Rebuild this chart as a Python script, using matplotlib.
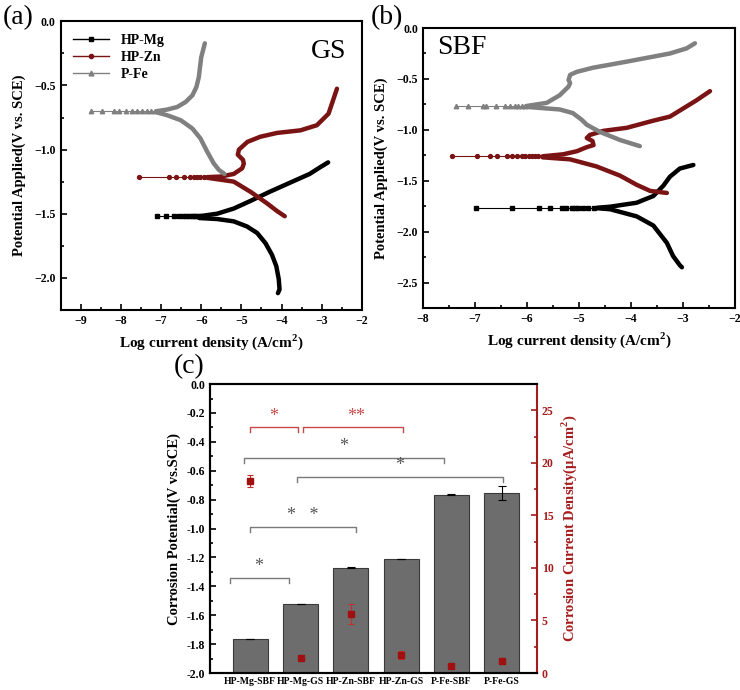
import numpy as np
import matplotlib
matplotlib.use('Agg')
import matplotlib.pyplot as plt
from matplotlib.lines import Line2D
from matplotlib.ticker import MultipleLocator

plt.rcParams['font.family'] = ['Liberation Serif', 'DejaVu Serif']
plt.rcParams['mathtext.fontset'] = 'custom'
plt.rcParams['mathtext.rm'] = 'Liberation Serif'
plt.rcParams['mathtext.bf'] = 'Liberation Serif:bold'

# ---- panel (a): GS polarisation curves (log i, E) ----
gs_mg_ecorr = -1.52
gs_mg_tip = [-7.11, -6.88, -6.68, -6.55, -6.45, -6.37, -6.30, -6.24, -6.18, -6.12, -6.06]
gs_mg_an_x = [-6.05, -5.6, -5.19, -4.77, -4.3, -3.8, -3.3, -3.05, -2.84]
gs_mg_an_y = [-1.52, -1.50, -1.46, -1.40, -1.33, -1.26, -1.19, -1.14, -1.10]
gs_mg_ca_x = [-6.05, -5.60, -5.19, -4.86, -4.61, -4.40, -4.24, -4.13, -4.07, -4.05, -4.09]
gs_mg_ca_y = [-1.534, -1.542, -1.56, -1.60, -1.65, -1.73, -1.82, -1.91, -2.01, -2.09, -2.12]

gs_zn_ecorr = -1.215
gs_zn_tip = [-7.55, -6.80, -6.64, -6.43, -6.27, -6.18, -6.10, -6.02, -5.93]
gs_zn_an_x = [-5.85, -5.5, -5.19, -4.98, -4.94, -4.96, -5.09, -5.06, -4.85, -4.53, -4.11, -3.53, -3.12, -2.83, -2.62]
gs_zn_an_y = [-1.215, -1.21, -1.19, -1.146, -1.11, -1.08, -1.04, -1.00, -0.94, -0.90, -0.87, -0.85, -0.81, -0.72, -0.525]
gs_zn_ca_x = [-5.85, -5.19, -4.77, -4.36, -4.11, -3.92]
gs_zn_ca_y = [-1.22, -1.25, -1.33, -1.42, -1.48, -1.52]

gs_fe_ecorr = -0.70
gs_fe_tip = [-8.75, -8.46, -8.17, -8.05, -7.88, -7.72, -7.59, -7.47, -7.34, -7.24, -7.16]
gs_fe_an_x = [-7.1, -6.85, -6.60, -6.39, -6.22, -6.12, -6.06, -6.03, -6.00, -5.91]
gs_fe_an_y = [-0.70, -0.688, -0.668, -0.629, -0.577, -0.512, -0.435, -0.357, -0.28, -0.171]
gs_fe_ca_x = [-7.1, -6.85, -6.51, -6.22, -6.02, -5.85, -5.69, -5.56, -5.42]
gs_fe_ca_y = [-0.71, -0.732, -0.771, -0.836, -0.913, -1.017, -1.107, -1.159, -1.19]

# ---- panel (b): SBF polarisation curves ----
sbf_mg_ecorr = -1.765
sbf_mg_tip = [-6.98, -6.28, -5.76, -5.56, -5.33, -5.24, -5.14, -5.08, -5.01, -4.92, -4.82, -4.72]
sbf_mg_an_x = [-4.65, -4.40, -3.89, -3.57, -3.38, -3.25, -3.06, -2.80]
sbf_mg_an_y = [-1.765, -1.755, -1.716, -1.65, -1.55, -1.46, -1.38, -1.345]
sbf_mg_ca_x = [-4.65, -4.40, -3.89, -3.57, -3.31, -3.19, -3.06, -3.02]
sbf_mg_ca_y = [-1.77, -1.78, -1.85, -1.94, -2.11, -2.24, -2.33, -2.35]

sbf_zn_ecorr = -1.26
sbf_zn_tip = [-7.45, -6.97, -6.72, -6.58, -6.39, -6.29, -6.20, -6.10, -6.04, -5.97, -5.91, -5.85, -5.78]
sbf_zn_an_x = [-5.7, -5.30, -5.04, -4.85, -4.72, -4.74, -4.85, -4.79, -4.53, -4.08, -3.57, -3.25, -2.74, -2.48]
sbf_zn_an_y = [-1.26, -1.24, -1.21, -1.17, -1.15, -1.11, -1.08, -1.05, -1.01, -0.98, -0.91, -0.87, -0.71, -0.62]
sbf_zn_ca_x = [-5.7, -5.17, -4.66, -4.21, -3.89, -3.63, -3.31]
sbf_zn_ca_y = [-1.27, -1.29, -1.36, -1.45, -1.54, -1.60, -1.62]

sbf_fe_ecorr = -0.768
sbf_fe_tip = [-7.37, -7.14, -6.84, -6.79, -6.60, -6.42, -6.33, -6.23, -6.17, -6.10, -6.04]
sbf_fe_an_x = [-6.0, -5.62, -5.37, -5.20, -5.17, -5.20, -5.17, -5.04, -4.73, -4.08, -3.25, -2.93, -2.77]
sbf_fe_an_y = [-0.765, -0.735, -0.66, -0.575, -0.54, -0.51, -0.46, -0.43, -0.39, -0.33, -0.25, -0.20, -0.15]
sbf_fe_ca_x = [-6.0, -5.62, -5.37, -5.12, -4.95, -4.85, -4.6, -4.21, -3.83]
sbf_fe_ca_y = [-0.775, -0.79, -0.80, -0.835, -0.90, -0.95, -1.02, -1.10, -1.16]

# ---- panel (c): corrosion potential / current density ----
samples = ['HP-Mg-SBF', 'HP-Mg-GS', 'HP-Zn-SBF', 'HP-Zn-GS', 'P-Fe-SBF', 'P-Fe-GS']
ecorr = [-1.765, -1.52, -1.27, -1.21, -0.766, -0.755]
ecorr_err = [0.0, 0.0, 0.006, 0.0, 0.003, 0.048]
icorr = [18.25, 1.46, 5.63, 1.72, 0.7, 1.14]
icorr_err = [0.55, 0.2, 0.95, 0.35, 0.1, 0.2]

C_MG, C_ZN, C_FE = 'black', '#7a1414', '#808080'
RED = '#a51c1c'

fig = plt.figure(figsize=(7.4, 6.9), dpi=100)
ax_a = fig.add_axes([0.082, 0.551, 0.407, 0.418])
ax_b = fig.add_axes([0.5716, 0.5536, 0.4216, 0.4058])
ax_c = fig.add_axes([0.2838, 0.0246, 0.4419, 0.4188])


def draw_curve(ax, tip, ec, an_x, an_y, ca_x, ca_y, color, marker, ms):
    ax.plot(tip, [ec] * len(tip), color=color, lw=0.8, marker=marker, ms=ms)
    ax.plot(an_x, an_y, color=color, lw=3.2, solid_capstyle='round', solid_joinstyle='round')
    ax.plot(ca_x, ca_y, color=color, lw=3.2, solid_capstyle='round', solid_joinstyle='round')


def style_tafel(ax, xlim, ylim):
    ax.set_xlim(*xlim)
    ax.set_ylim(*ylim)
    ax.xaxis.set_major_locator(MultipleLocator(1))
    ax.xaxis.set_minor_locator(MultipleLocator(0.5))
    ax.yaxis.set_major_locator(MultipleLocator(0.5))
    ax.yaxis.set_minor_locator(MultipleLocator(0.25))
    ax.tick_params(which='both', direction='in', width=1.2)
    ax.tick_params(which='major', length=4, labelsize=8.5)
    ax.tick_params(which='minor', length=2.5)
    for t in ax.get_xticklabels() + ax.get_yticklabels():
        t.set_fontweight('bold')
    for s in ax.spines.values():
        s.set_linewidth(1.5)
    ax.set_xlabel('Log current density (A/cm$^\\mathbf{2}$)', fontsize=11, fontweight='bold', labelpad=4)
    ax.set_ylabel('Potential Applied(V vs. SCE)', fontsize=10.5, fontweight='bold', labelpad=6)


draw_curve(ax_a, gs_mg_tip, gs_mg_ecorr, gs_mg_an_x, gs_mg_an_y, gs_mg_ca_x, gs_mg_ca_y, C_MG, 's', 2.8)
draw_curve(ax_a, gs_zn_tip, gs_zn_ecorr, gs_zn_an_x, gs_zn_an_y, gs_zn_ca_x, gs_zn_ca_y, C_ZN, 'o', 2.8)
draw_curve(ax_a, gs_fe_tip, gs_fe_ecorr, gs_fe_an_x, gs_fe_an_y, gs_fe_ca_x, gs_fe_ca_y, C_FE, '^', 3.2)
style_tafel(ax_a, (-9.5, -2), (-2.25, 0))
ax_a.text(0.89, 0.895, 'GS', transform=ax_a.transAxes, fontsize=20, ha='center', va='center')
handles = [Line2D([], [], color=C_MG, lw=1, marker='s', ms=3),
           Line2D([], [], color=C_ZN, lw=1, marker='o', ms=3),
           Line2D([], [], color=C_FE, lw=1, marker='^', ms=3.5)]
ax_a.legend(handles, ['HP-Mg', 'HP-Zn', 'P-Fe'], loc='upper left', bbox_to_anchor=(0.0, 1.0),
            frameon=False, prop={'weight': 'bold', 'size': 10}, handlelength=2.6,
            labelspacing=0.3, borderaxespad=0.5)

draw_curve(ax_b, sbf_mg_tip, sbf_mg_ecorr, sbf_mg_an_x, sbf_mg_an_y, sbf_mg_ca_x, sbf_mg_ca_y, C_MG, 's', 2.8)
draw_curve(ax_b, sbf_zn_tip, sbf_zn_ecorr, sbf_zn_an_x, sbf_zn_an_y, sbf_zn_ca_x, sbf_zn_ca_y, C_ZN, 'o', 2.8)
draw_curve(ax_b, sbf_fe_tip, sbf_fe_ecorr, sbf_fe_an_x, sbf_fe_an_y, sbf_fe_ca_x, sbf_fe_ca_y, C_FE, '^', 3.2)
style_tafel(ax_b, (-8, -2), (-2.75, 0))
ax_b.text(0.125, 0.93, 'SBF', transform=ax_b.transAxes, fontsize=20, ha='center', va='center')

fig.text(0.024, 0.975, '(a)', fontsize=20, ha='center', va='center')
fig.text(0.523, 0.975, '(b)', fontsize=20, ha='center', va='center')
fig.text(0.255, 0.468, '(c)', fontsize=20, ha='center', va='center')

# ---- panel (c) ----
x = np.arange(len(samples))
heights = np.array(ecorr) + 2.0
ax_c.bar(x, heights, bottom=-2.0, width=0.7, color='#6d6d6d', edgecolor='#3a3a3a', lw=0.8, zorder=2)
ax_c.errorbar(x, ecorr, yerr=ecorr_err, fmt='none', ecolor='black', elinewidth=0.8, capsize=3, capthick=0.8, zorder=3)
ax_c.set_xlim(-0.8, 5.7)
ax_c.set_ylim(-2.0, 0.0)
ax_c.set_xticks(x)
ax_c.set_xticklabels(samples, fontsize=7, fontweight='bold')
ax_c.yaxis.set_major_locator(MultipleLocator(0.2))
ax_c.yaxis.set_minor_locator(MultipleLocator(0.1))
ax_c.yaxis.set_major_formatter(matplotlib.ticker.FormatStrFormatter('%.1f'))
ax_c.tick_params(axis='x', length=0, pad=3)
ax_c.tick_params(axis='y', which='both', direction='in', width=1.2, labelsize=8.5)
ax_c.tick_params(axis='y', which='major', length=4)
ax_c.tick_params(axis='y', which='minor', length=2.5)
for t in ax_c.get_yticklabels():
    t.set_fontweight('bold')
for s in ax_c.spines.values():
    s.set_linewidth(1.5)
ax_c.spines['right'].set_visible(False)
ax_c.set_ylabel('Corrosion Potential(V vs.SCE)', fontsize=10.5, fontweight='bold', labelpad=4)

ax_r = ax_c.twinx()
ax_r.errorbar(x, icorr, yerr=icorr_err, fmt='s', color='#a01010', ms=5, ecolor='#c03030',
              elinewidth=0.8, capsize=2.5, capthick=0.8, zorder=4)
ax_r.set_ylim(0, 27.5)
ax_r.yaxis.set_major_locator(MultipleLocator(5))
ax_r.yaxis.set_minor_locator(MultipleLocator(2.5))
ax_r.tick_params(axis='y', which='both', direction='in', width=1.2, colors=RED, labelsize=8.5)
ax_r.tick_params(axis='y', which='major', length=4)
ax_r.tick_params(axis='y', which='minor', length=2.5)
for t in ax_r.get_yticklabels():
    t.set_fontweight('bold')
for side, s in ax_r.spines.items():
    s.set_linewidth(1.5)
ax_r.spines['right'].set_color(RED)
ax_r.set_ylabel('Corrosion Current Density(μA/cm$^\\mathbf{2}$)', color=RED, fontsize=10.5,
                fontweight='bold', labelpad=4)

# significance brackets: (x_start, x_end, y, label, label_x, colour)
brackets = [(-0.4, 0.77, -1.34, '*', 0.17, 'gray'),
            (0.0, 2.1, -0.99, '*   *', 1.05, 'gray'),
            (-0.13, 3.85, -0.51, '*', 1.85, 'gray'),
            (0.93, 5.03, -0.64, '*', 2.97, 'gray'),
            (0.0, 0.94, -0.30, '*', 0.47, 'red'),
            (1.04, 3.03, -0.30, '**', 2.1, 'red')]
tick = 0.035
for x1, x2, yb, lab, xl, col in brackets:
    lc = '#7a7a7a' if col == 'gray' else '#c84a4a'
    tc = '#555555' if col == 'gray' else '#c84a4a'
    ax_c.plot([x1, x1, x2, x2], [yb - tick, yb, yb, yb - tick], color=lc, lw=1.0, zorder=4)
    ax_c.text(xl, yb + 0.02, lab, color=tc, fontsize=13, ha='center', va='bottom', zorder=4)

fig.savefig('out.png', dpi=100)
